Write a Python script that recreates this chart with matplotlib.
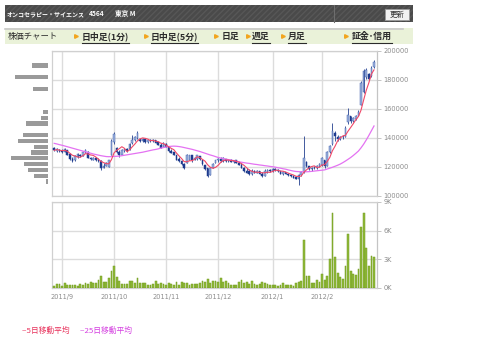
import numpy as np
import pandas as pd
import matplotlib
matplotlib.use("Agg")
import matplotlib.pyplot as plt
from matplotlib.patches import Rectangle
from matplotlib.lines import Line2D

# ---------------- data ----------------
title_name = "オンコセラピー・サイエンス"
title_code = "4564"
title_market = "東京 M"
button_label = "更新"
menu_labels = ["株価チャート", "日中足(1分)", "日中足(5分)", "日足", "週足", "月足", "証金･信用"]
legend_labels = ["--5日移動平均", "--25日移動平均"]

month_labels = ["2011/9", "2011/10", "2011/11", "2011/12", "2012/1", "2012/2"]
month_start_idx = [3, 23, 43, 63, 84, 103]

open_ = [133000,130800,132000,131000,130500,131500,129000,125500,124500,127000,
         128500,127800,130000,130500,126500,125000,126000,125000,124000,119500,
         121000,120000,128500,137000,133000,130500,128500,131000,132500,132500,
         136500,138500,140000,139000,138000,139500,137000,138500,138000,138500,
         137000,135500,133500,136000,133500,131000,130000,128500,125500,124000,
         122000,123000,125000,128000,125000,125500,127500,125000,121500,119000,
         114500,119500,122500,124500,125500,124000,125500,124000,124500,123500,
         124500,123000,121500,119500,117500,117500,115000,117500,116000,117000,
         115500,114000,116500,118000,117000,118500,118000,117000,115500,116500,
         115500,114500,114000,113000,112000,114500,116500,123500,120500,118500,
         119500,119000,120500,121500,124500,121000,130000,136000,143500,141000,
         139500,140500,141000,151000,155000,152000,153000,155500,163000,172000,
         182000,184000,182500,189000]
high = [134000,133000,132500,132200,133000,132000,129500,127000,128300,129500,
        129000,130800,132200,131000,127100,126700,126400,126000,124800,123000,
        123700,125000,139000,144400,134000,131700,132200,133000,133000,136500,
        142000,141500,145000,139500,139800,140000,138800,139100,139100,138600,
        137500,136300,137500,136300,133500,132200,130600,128500,127100,124800,
        122500,128800,128300,128300,127100,128300,127500,125000,121500,119100,
        120200,122500,124800,126000,127100,127100,125500,124800,125300,124800,
        124800,124400,122500,120200,119100,118400,118400,117900,117900,117200,
        116800,118400,118400,118400,119100,119500,118500,117500,117000,116800,
        116000,115000,114500,114000,115000,117000,141500,124000,121000,120000,
        120500,121400,122500,127100,125000,131000,135500,150000,144500,142000,
        141500,142000,148000,160500,155500,154500,156000,159500,179000,187500,
        188000,184500,189500,194000]
low = [131000,130500,130500,129800,130000,128000,125000,123500,124000,126500,
       127000,127500,129500,126000,124800,124800,124400,123700,117900,119000,
       120700,119800,128000,136000,129400,127100,128000,130600,130500,132000,
       136000,138000,139500,137500,137500,136800,136300,137500,137300,136300,
       135000,132800,133500,133500,130500,129400,128300,124800,123700,121400,
       118400,122800,124800,123700,124800,124800,124800,121400,117900,113300,
       114500,119100,122500,123700,123700,123700,123700,123200,123200,123000,
       122500,121400,119100,116800,115600,114500,114500,115600,115600,115200,
       112900,114000,116100,116800,116800,117500,116800,115200,114500,115000,
       113800,113000,112200,111500,107600,114000,116000,120200,117900,117500,
       118300,118800,119700,121000,119500,120500,129500,135500,138000,138000,
       138500,139500,140500,149500,150500,151000,152500,155000,162500,171000,
       181000,180000,182000,188500]
close = [131500,132500,131000,130000,132500,128500,125500,124000,127500,129000,
         127500,130500,131500,126500,125500,126000,125000,124000,119000,121000,
         122500,124500,138000,142500,130000,128000,131500,132500,131000,136000,
         138500,141000,143500,137800,139500,137000,138500,138000,138800,136800,
         135500,133000,136500,134000,131000,129800,128500,125000,124000,121800,
         119000,128500,128000,124500,126500,128000,125500,121800,118500,114000,
         119500,122000,124500,125500,124000,126000,124000,124500,123500,124300,
         123000,121500,119500,117500,116000,115000,117500,116000,117500,115500,
         113500,117500,118000,117000,118500,118000,117000,115500,116500,115500,
         114500,113500,112500,112000,114500,116500,126000,121000,118500,119500,
         119000,120500,122000,126000,120500,130000,134500,145000,141500,139000,
         140500,141000,147000,156000,151500,153500,155000,158000,178000,186000,
         187000,181000,188500,192500]
ma25 = [136300,135900,135400,135000,134500,134000,133500,133000,132500,132000,
        131500,131000,130500,130000,129500,129000,128600,128200,127800,127500,
        127200,127100,127200,127300,127400,127500,127800,128100,128400,128700,
        129000,129300,129600,129900,130200,130600,131000,131400,131800,132100,
        132500,133000,133400,133800,134100,134300,134400,134300,134100,133800,
        133400,133000,132600,132200,131700,131200,130700,130100,129500,128900,
        128300,127800,127200,126600,126200,125800,125400,125100,124800,124400,
        124000,123600,123300,123000,122700,122500,122200,121900,121700,121400,
        121200,120900,120700,120400,120200,119900,119500,119200,118800,118500,
        118000,117600,117200,116900,116800,116700,116700,116700,116800,117000,
        117200,117400,117600,117800,118000,118600,119200,119800,120500,121200,
        122000,123000,124100,125300,126500,127900,129400,131000,133200,135700,
        138600,141700,145000,148300]
volume = [200,400,400,200,500,300,350,350,300,200,
          400,350,500,400,600,500,500,800,1300,600,
          600,1000,1800,2350,1150,750,450,400,400,700,
          700,500,1000,500,500,500,300,350,450,700,
          450,500,400,350,500,400,350,600,300,650,
          500,500,350,400,380,400,500,700,600,900,
          500,700,700,600,1000,600,700,500,300,300,
          300,600,850,500,600,400,700,400,300,400,
          600,500,400,300,300,300,250,300,500,300,
          300,350,200,500,600,700,5000,1300,1250,500,
          500,800,650,1450,800,1300,3000,7800,3200,1550,
          1200,900,2300,5600,1750,1500,1350,2000,6400,7800,
          4200,2300,3300,3250]

profile_price = [110000,114000,118000,122000,126000,130000,134000,138000,
                 142000,150000,154000,158000,174000,182000,190000]
profile_volume = [2,14,20,24,37,17,14,30,25,22,7,5,15,33,16]

price_ticks = [100000,120000,140000,160000,180000,200000]
vol_ticks = [0,3000,6000,9000]
vol_tick_labels = ["0K","3K","6K","9K"]

# ---------------- figure ----------------
W, H = 480, 362
fig = plt.figure(figsize=(W/100, H/100), dpi=100)
fig.patch.set_facecolor("white")
def fx(x): return x / W
def fy(y): return 1 - y / H

cjk = ["Noto Sans CJK JP", "DejaVu Sans"]
grid_c = "#dcdcdc"
tick_c = "#8c8c8c"

# header bar
fig.add_artist(Rectangle((fx(5), fy(22)), fx(413) - fx(5), 17 / H, transform=fig.transFigure,
                         facecolor="#4a4a4a", edgecolor="#575757", hatch="//////", lw=0))
fig.add_artist(Line2D([fx(334), fx(334)], [fy(5), fy(22)], transform=fig.transFigure,
                      color="#6e6e6e", lw=0.8))
fig.text(fx(7), fy(13.5), title_name, color="white", fontsize=4.3, family=cjk,
         va="center", ha="left", fontweight="bold")
fig.text(fx(89), fy(13.5), title_code, color="white", fontsize=4.8, family=cjk,
         va="center", ha="left", fontweight="bold")
fig.text(fx(115), fy(13.5), title_market, color="white", fontsize=4.8, family=cjk,
         va="center", ha="left", fontweight="bold")
fig.add_artist(Rectangle((fx(385), fy(19.5)), fx(409) - fx(385), 10 / H, transform=fig.transFigure,
                         facecolor="#f2f2f2", edgecolor="#9a9a9a", lw=0.6))
fig.text(fx(397), fy(14.7), button_label, color="#333333", fontsize=5.4, family=cjk,
         va="center", ha="center")

# menu bar
fig.add_artist(Rectangle((fx(5), fy(44)), fx(413) - fx(5), 16 / H, transform=fig.transFigure,
                         facecolor="#eaf2d9", edgecolor="none"))
fig.add_artist(Line2D([fx(5), fx(403)], [fy(28.5), fy(28.5)], transform=fig.transFigure,
                      color="#c9c9c9", lw=1.2))
menu_x = [8, 82, 151, 222, 252, 288, 352]
menu_marker_x = [None, 76, 146, 216, 248, 283, 346]
menu_underline = [False, True, True, False, True, True, True]
renderer = fig.canvas.get_renderer()
for lab, x, mx, ul in zip(menu_labels, menu_x, menu_marker_x, menu_underline):
    t = fig.text(fx(x), fy(36.5), lab, color="#2b2b2b", fontsize=6.0 if mx is None else 6.4,
                 family=cjk, va="center", ha="left",
                 fontweight="bold" if mx is not None else "normal")
    if mx is not None:
        fig.add_artist(Line2D([fx(mx)], [fy(36)], transform=fig.transFigure, marker=">",
                              ms=2.6, color="#f2a51f", mec="#f2a51f", lw=0))
    if ul:
        bb = t.get_window_extent(renderer)
        fig.add_artist(Line2D([bb.x0 / W, bb.x1 / W], [fy(42.5), fy(42.5)],
                              transform=fig.transFigure, color="#2b2b2b", lw=0.8))

# axes
n = len(close)
idx = np.arange(n)
xl = (-0.85, 124.15)

ax = fig.add_axes([fx(52), fy(196), fx(377) - fx(52), 145 / H])
axv = fig.add_axes([fx(52), fy(288), fx(377) - fx(52), 86 / H])
axp = fig.add_axes([0, fy(196), fx(48), 145 / H])

o = np.array(open_, float); c = np.array(close, float)
h = np.array(high, float); l = np.array(low, float)
up = c >= o
bot = np.minimum(o, c)
bh = np.maximum(np.abs(c - o), 400)

ax.vlines(idx, l, h, color="#24408f", lw=0.6, zorder=3)
ax.bar(idx[up], bh[up], bottom=bot[up], width=0.62, color="#9db3df",
       edgecolor="#4664ad", lw=0.35, zorder=4)
ax.bar(idx[~up], bh[~up], bottom=bot[~up], width=0.62, color="#1d3a8e",
       edgecolor="#1d3a8e", lw=0.35, zorder=4)

ma5 = pd.Series(c).rolling(5, min_periods=1).mean()
ax.plot(idx, ma25, color="#e472f2", lw=0.9, zorder=5)
ax.plot(idx, ma5, color="#f04868", lw=0.8, zorder=6)

ax.set_xlim(*xl)
ax.set_ylim(100000, 200000)
ax.set_yticks(price_ticks)
ax.set_yticklabels([str(v) for v in price_ticks])
ax.set_xticks(month_start_idx)
ax.set_xticklabels([])
ax.yaxis.tick_right()
ax.tick_params(axis="y", length=3, width=0.6, color="#bbbbbb", pad=1.5,
               labelsize=4.8, labelcolor=tick_c)
ax.tick_params(axis="x", length=0)
ax.grid(True, color=grid_c, lw=1.0, zorder=0)
for s in ax.spines.values():
    s.set_color("#d0d0d0"); s.set_linewidth(0.9)
ax.spines["right"].set_color("#c4c4c4")

# volume
axv.bar(idx, volume, width=0.7, color="#92bb3a", edgecolor="#6f9a1f", lw=0.35, zorder=3)
axv.set_xlim(*xl)
axv.set_ylim(0, 9000)
axv.set_yticks(vol_ticks)
axv.set_yticklabels(vol_tick_labels)
axv.yaxis.tick_right()
axv.set_xticks(month_start_idx)
axv.set_xticklabels(month_labels)
axv.tick_params(axis="y", length=3, width=0.6, color="#bbbbbb", pad=1.5,
                labelsize=4.8, labelcolor=tick_c)
axv.tick_params(axis="x", length=0, pad=4, labelsize=4.8, labelcolor=tick_c)
axv.grid(True, color=grid_c, lw=1.0, zorder=0)
for s in axv.spines.values():
    s.set_color("#d0d0d0"); s.set_linewidth(0.9)
axv.spines["right"].set_color("#c4c4c4")

# volume-by-price profile
axp.barh(profile_price, profile_volume, height=2800, color="#9a9a9a", lw=0)
axp.set_xlim(48, 0)
axp.set_ylim(100000, 200000)
axp.axis("off")

# legend texts
fig.text(fx(22), fy(331), legend_labels[0], color="#e8305a", fontsize=5.6, family=cjk,
         va="center", ha="left")
fig.text(fx(80), fy(331), legend_labels[1], color="#d43fe0", fontsize=5.6, family=cjk,
         va="center", ha="left")

fig.savefig("out.png", dpi=100)
